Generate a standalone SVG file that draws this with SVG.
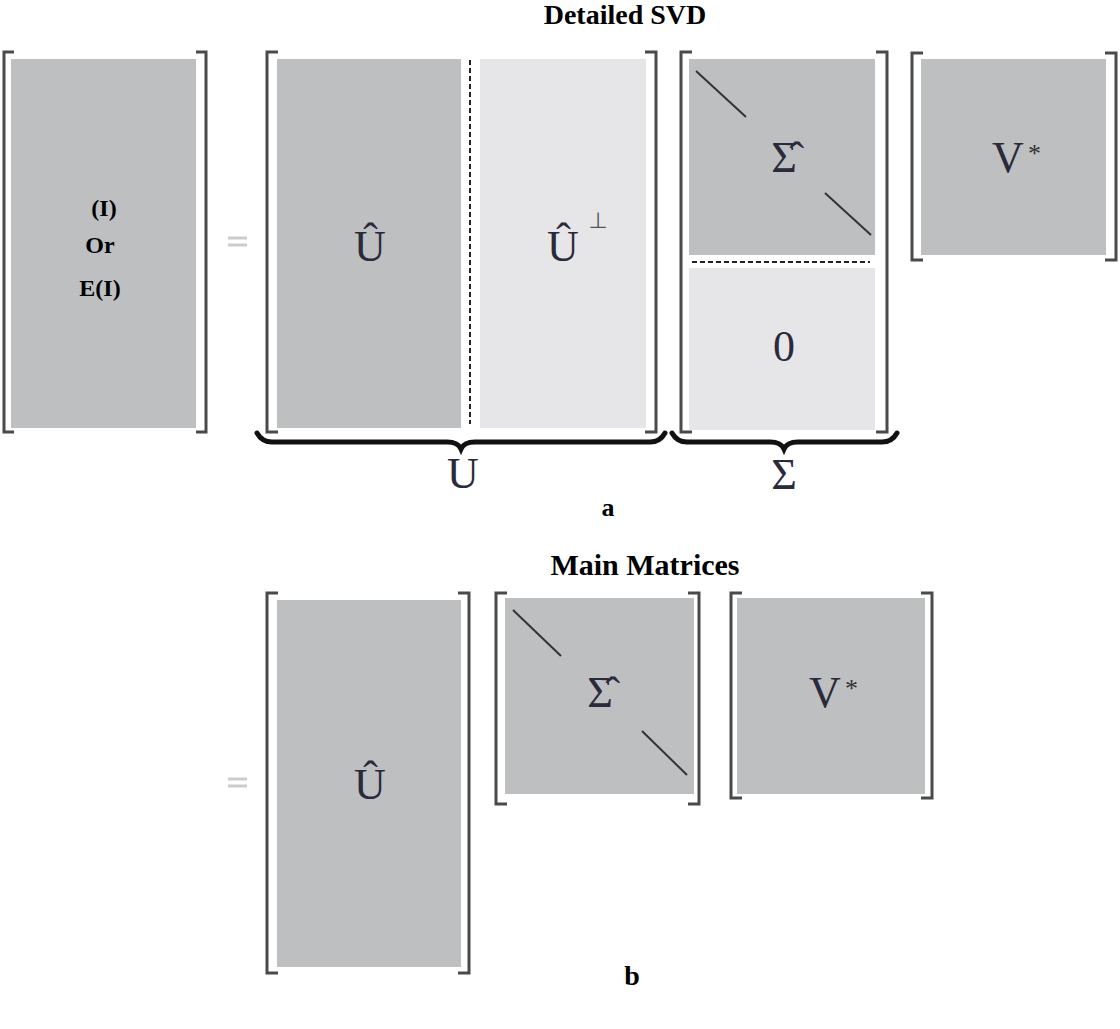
<svg xmlns="http://www.w3.org/2000/svg" width="1120" height="1029" viewBox="0 0 1120 1029">
<style>
.dk{fill:#bebfc1}.lt{fill:#e6e6e8}
.br{fill:none;stroke:#4a4a4a;stroke-width:3}
.dg{stroke:#333;stroke-width:2}
.m{font-family:"Liberation Serif",serif;font-size:44px;fill:#2a2a3a;text-anchor:middle}
.b{font-family:"Liberation Serif",serif;font-weight:bold;fill:#000;text-anchor:middle}
.eq{stroke:#ccc;stroke-width:3}
.st{font-family:"Liberation Serif",serif;font-size:26px;fill:#333}
</style>
<rect width="1120" height="1029" fill="#fff"/>
<text class="b" x="625" y="24" font-size="28">Detailed SVD</text>
<g id="I">
<path class="br" d="M14,52 H4 V432 H14 M196,52 H206 V432 H196"/>
<rect class="dk" x="11" y="59" width="185" height="369"/>
<text class="b" x="104" y="216" font-size="24">(I)</text>
<text class="b" x="100" y="253" font-size="24">Or</text>
<text class="b" x="100" y="296" font-size="24">E(I)</text>
</g>
<g id="eq1"><line class="eq" x1="228" y1="238" x2="247" y2="238"/><line class="eq" x1="228" y1="245" x2="247" y2="245"/></g>
<g id="Umat">
<path class="br" d="M278,52 H267 V432 H278 M645,52 H656 V432 H645"/>
<rect class="dk" x="277" y="59" width="184" height="369"/>
<rect class="lt" x="480" y="59" width="166" height="369"/>
<line x1="470" y1="60" x2="470" y2="424" stroke="#222" stroke-width="2" stroke-dasharray="5,3"/>
<text class="m" x="370" y="261">Û</text>
<text class="m" x="563" y="261">Û</text>
<text x="598" y="228" font-family="DejaVu Sans,sans-serif" font-size="22" fill="#555" text-anchor="middle">⊥</text>
</g>
<g id="Sigma">
<path class="br" d="M692,52 H681 V432 H692 M876,52 H887 V432 H876"/>
<rect class="dk" x="689" y="59" width="186" height="196"/>
<rect class="lt" x="689" y="268" width="186" height="162"/>
<line x1="692" y1="262" x2="870" y2="262" stroke="#222" stroke-width="2" stroke-dasharray="5,3"/>
<line class="dg" x1="696" y1="71" x2="746" y2="117"/>
<line class="dg" x1="825" y1="193" x2="871" y2="235"/>
<text class="m" x="784" y="172">Σ̂</text>
<text class="m" x="784" y="361">0</text>
</g>
<g id="V1">
<path class="br" d="M923,53 H912 V260 H923 M1105,53 H1116 V260 H1105"/>
<rect class="dk" x="921" y="59" width="185" height="196"/>
<text class="m" x="1008" y="172">V</text><text class="st" x="1028" y="162">*</text>
</g>
<g id="braces" fill="none" stroke="#111" stroke-linecap="round">
<path d="M257,433 Q262,442 272,442 H447 Q458,442 461,449 Q464,442 475,442 H650 Q660,442 665,433" stroke-width="5"/>
<path d="M672,433 Q677,442 687,442 H770 Q781,442 784,449 Q787,442 798,442 H882 Q892,442 897,433" stroke-width="5"/>
</g>
<text class="m" x="463" y="488">U</text>
<text class="m" x="784" y="489">Σ</text>
<text class="b" x="608" y="516" font-size="26">a</text>
<text class="b" x="645" y="575" font-size="30">Main Matrices</text>
<g id="eq2"><line class="eq" x1="228" y1="779" x2="247" y2="779"/><line class="eq" x1="228" y1="786" x2="247" y2="786"/></g>
<g id="Uhat2">
<path class="br" d="M278,593 H267 V973 H278 M458,593 H469 V973 H458"/>
<rect class="dk" x="277" y="600" width="184" height="367"/>
<text class="m" x="370" y="799">Û</text>
</g>
<g id="Sigma2">
<path class="br" d="M507,593 H496 V804 H507 M688,593 H699 V804 H688"/>
<rect class="dk" x="505" y="598" width="189" height="196"/>
<line class="dg" x1="513" y1="610" x2="561" y2="656"/>
<line class="dg" x1="642" y1="731" x2="687" y2="775"/>
<text class="m" x="600" y="707">Σ̂</text>
</g>
<g id="V2">
<path class="br" d="M742,593 H731 V798 H742 M921,593 H932 V798 H921"/>
<rect class="dk" x="737" y="598" width="188" height="196"/>
<text class="m" x="825" y="707">V</text><text class="st" x="845" y="697">*</text>
</g>
<text class="b" x="632" y="985" font-size="28">b</text>
</svg>
